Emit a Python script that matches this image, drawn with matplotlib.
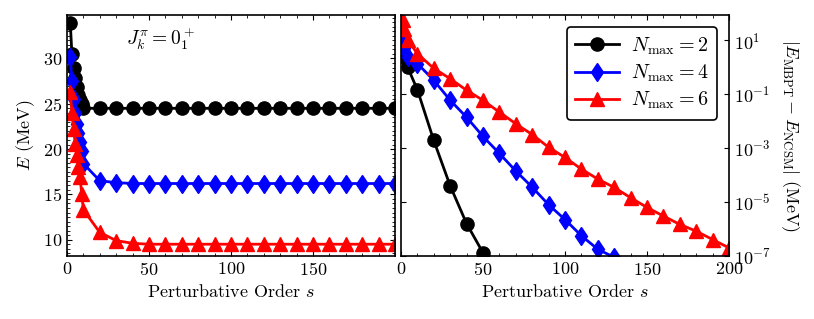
import matplotlib
matplotlib.use("Agg")
import matplotlib.pyplot as plt
from matplotlib.ticker import MultipleLocator, FixedLocator, NullLocator
import numpy as np

plt.rcParams.update({
    "font.family": "serif",
    "font.serif": ["cmr10"],
    "mathtext.fontset": "cm",
    "axes.formatter.use_mathtext": True,
    "font.size": 13,
    "xtick.direction": "in",
    "ytick.direction": "in",
    "xtick.top": True,
    "ytick.right": True,
})

# perturbative orders
s_left = np.array([2, 3, 4, 5, 6, 7, 8, 9] + list(range(10, 201, 10)))
s_right = np.array([1, 2, 4] + list(range(10, 201, 10)))

# left panel: energy (MeV) vs order
E_n2 = [33.9, 30.5, 29.0, 27.8, 26.8, 26.0, 25.4, 25.0] + [24.5] * 20
E_n4 = [30.2, 27.5, 25.5, 24.0, 22.8, 21.8, 20.8, 19.8] + [18.4, 16.5, 16.3] + [16.2] * 17
E_n6 = [26.3, 24.0, 22.2, 20.6, 19.3, 18.0, 16.9, 15.0] + [13.3, 10.8, 9.9, 9.6] + [9.5] * 16

# right panel: log10 |E_MBPT - E_NCSM| (MeV)
d_n2 = [0.56, 0.38, 0.0, -0.84, -2.72, -4.4, -5.8, -6.88]
d_n4 = [0.89, 0.7, 0.38, 0.13, -0.49, -1.23, -1.86, -2.57, -3.2, -3.85, -4.45,
        -5.1, -5.65, -6.25, -6.75, -7.05]
d_n6 = [1.74, 1.4, 1.0, 0.5, -0.05, -0.43, -0.86, -1.23, -1.67, -2.1, -2.5,
        -2.97, -3.35, -3.78, -4.15, -4.46, -4.84, -5.2, -5.52, -5.83, -6.08,
        -6.39, -6.7]

labels = [r"$N_{\rm max} = 2$", r"$N_{\rm max} = 4$", r"$N_{\rm max} = 6$"]
colors = ["black", "blue", "red"]
markers = ["o", "d", "^"]

fig = plt.figure(figsize=(8.14, 3.19), dpi=100)
ax1 = fig.add_axes([0.0823, 0.1975, 0.403, 0.7555])
ax2 = fig.add_axes([0.4926, 0.1975, 0.403, 0.7555])

for E, c, m, l in zip([E_n2, E_n4, E_n6], colors, markers, labels):
    ax1.plot(s_left, E, color=c, marker=m, ms=9.5, lw=2, label=l)

for d, c, m, l in zip([d_n2, d_n4, d_n6], colors, markers, labels):
    n = len(d)
    ax2.plot(s_right[:n], 10.0 ** np.array(d), color=c, marker=m, ms=9.5, lw=2, label=l)

# left panel
ax1.set_xlim(0, 200)
ax1.set_ylim(8.2, 34.8)
ax1.xaxis.set_major_locator(FixedLocator([0, 50, 100, 150]))
ax1.xaxis.set_minor_locator(MultipleLocator(10))
ax1.yaxis.set_major_locator(MultipleLocator(5))
ax1.yaxis.set_minor_locator(MultipleLocator(0.5))
ax1.set_xlabel(r"Perturbative Order $s$")
ax1.set_ylabel(r"$E$ (MeV)", labelpad=4)
ax1.text(0.18, 0.9, r"$J^\pi_k = 0^+_1$", transform=ax1.transAxes,
         ha="left", va="center", fontsize=14)

# right panel
ax2.set_yscale("log")
ax2.set_xlim(0, 200)
ax2.set_ylim(1e-7, 85)
ax2.xaxis.set_major_locator(MultipleLocator(50))
ax2.xaxis.set_minor_locator(MultipleLocator(10))
ax2.yaxis.set_major_locator(FixedLocator([1e-7, 1e-5, 1e-3, 1e-1, 1e1]))
ax2.yaxis.set_minor_locator(NullLocator())
ax2.yaxis.set_ticks_position("both")
ax2.tick_params(axis="y", which="both", labelleft=False, labelright=True)
ax2.yaxis.set_label_position("right")
ax2.set_xlabel(r"Perturbative Order $s$")
ax2.set_ylabel(r"$|E_{\rm MBPT} - E_{\rm NCSM}|$ (MeV)", rotation=270, labelpad=22)

leg = ax2.legend(loc="upper right", fontsize=14.5, handlelength=2.2,
                 borderaxespad=0.6, handletextpad=0.6, labelspacing=0.3,
                 frameon=True, fancybox=True, edgecolor="black", framealpha=1)
leg.get_frame().set_linewidth(1.2)

for ax in (ax1, ax2):
    for sp in ax.spines.values():
        sp.set_linewidth(1.2)

plt.savefig("out.png", dpi=100)
